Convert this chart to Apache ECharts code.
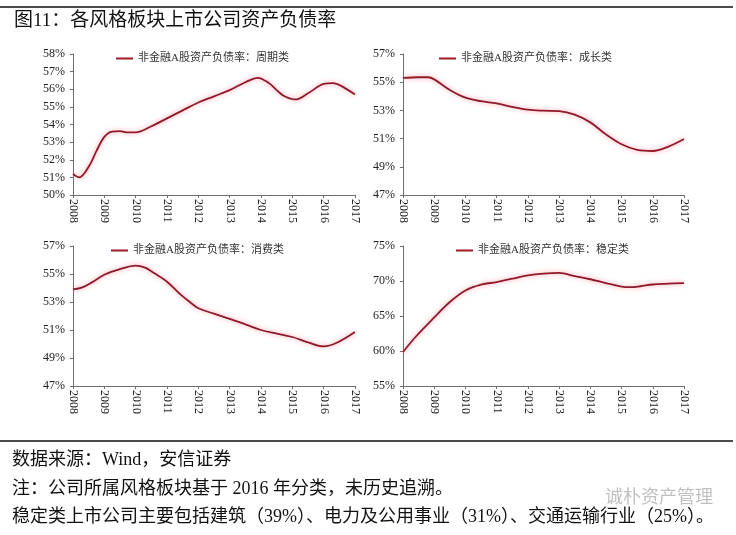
<!DOCTYPE html>
<html><head><meta charset="utf-8">
<script src="https://cdn.jsdelivr.net/npm/echarts@6/dist/echarts.min.js"></script>
<style>html,body{margin:0;padding:0;background:#fff;}#c{width:736px;height:535px;}</style>
</head><body><div id="c"></div>
<script>
// ---- data ----
const titleText = '图11：各风格板块上市公司资产负债率';
const footerLines = ['数据来源：Wind，安信证券', '注：公司所属风格板块基于 2016 年分类，未历史追溯。', '稳定类上市公司主要包括建筑（39%）、电力及公用事业（31%）、交通运输行业（25%）。'];
const seriesNames = ['非金融A股资产负债率：周期类', '非金融A股资产负债率：成长类', '非金融A股资产负债率：消费类', '非金融A股资产负债率：稳定类'];

const cyclicalX = [2008, 2008.2, 2008.5, 2008.75, 2009, 2009.25, 2009.5, 2009.75, 2010, 2010.5, 2011, 2011.5, 2012, 2012.5, 2013, 2013.5, 2013.9, 2014.25, 2014.5, 2014.75, 2015.1, 2015.5, 2016, 2016.3, 2016.6, 2017];
const cyclicalY = [51.2, 51.0, 51.6, 52.5, 53.3, 53.6, 53.62, 53.55, 53.55, 53.9, 54.35, 54.8, 55.25, 55.6, 55.95, 56.4, 56.65, 56.35, 55.95, 55.6, 55.42, 55.77, 56.3, 56.35, 56.15, 55.7];

const growthX = [2008, 2008.5, 2008.8, 2009, 2009.5, 2010, 2010.5, 2011, 2011.5, 2012, 2012.5, 2013, 2013.5, 2014, 2014.5, 2015, 2015.5, 2016, 2016.5, 2017];
const growthY = [55.3, 55.35, 55.35, 55.2, 54.45, 53.9, 53.65, 53.5, 53.25, 53.05, 52.98, 52.95, 52.7, 52.15, 51.3, 50.6, 50.2, 50.12, 50.43, 50.97];

const consumerX = [2008, 2008.3, 2008.6, 2009, 2009.5, 2010, 2010.3, 2010.6, 2011, 2011.4, 2011.7, 2012, 2012.5, 2013, 2013.5, 2014, 2014.5, 2015, 2015.5, 2016, 2016.4, 2017];
const consumerY = [53.9, 54.05, 54.4, 54.95, 55.35, 55.6, 55.45, 55.05, 54.45, 53.6, 53.05, 52.55, 52.17, 51.8, 51.4, 51.0, 50.74, 50.5, 50.12, 49.83, 50.07, 50.86];

const stableX = [2008, 2008.4, 2009, 2009.5, 2010, 2010.5, 2011, 2011.5, 2012, 2012.5, 2013, 2013.5, 2014, 2014.5, 2015, 2015.3, 2015.6, 2016, 2016.5, 2017];
const stableY = [59.85, 62.0, 64.8, 67.0, 68.65, 69.48, 69.85, 70.33, 70.8, 71.05, 71.15, 70.7, 70.25, 69.71, 69.2, 69.12, 69.25, 69.5, 69.62, 69.7];

const yearMin = 2008, yearMax = 2017;
const yRanges = [[50, 58, 1], [47, 57, 2], [47, 57, 2], [55, 75, 5]];

// ---- layout ----
const grids = [
  {left: 73, top: 54, width: 282, height: 141},
  {left: 403, top: 54, width: 281, height: 141},
  {left: 73, top: 246, width: 282, height: 140},
  {left: 403, top: 246, width: 281, height: 140}
];
const legendPos = [[111, 48], [434, 48], [106, 240], [451, 240]];
const xs = [cyclicalX, growthX, consumerX, stableX];
const ys = [cyclicalY, growthY, consumerY, stableY];

const serif = '"Liberation Serif", "Times New Roman", serif';
const cjk = '"Liberation Serif", "Noto Sans CJK SC", serif';
const axisColor = '#6e6e6e';
const lineColor = '#8e1a2b';

const option = {
  animation: false,
  backgroundColor: '#fff',
  grid: grids.map(g => Object.assign({containLabel: false, outerBoundsMode: 'none'}, g)),
  xAxis: grids.map((g, i) => ({
    type: 'value', gridIndex: i, min: yearMin, max: yearMax, interval: 1,
    axisLine: {show: true, lineStyle: {color: axisColor, width: 1}},
    axisTick: {show: true, length: 3, lineStyle: {color: axisColor}},
    splitLine: {show: false},
    axisLabel: {rotate: -90, margin: 4, color: '#222', fontFamily: serif, fontSize: 12,
      formatter: v => String(Math.round(v))}
  })),
  yAxis: yRanges.map((r, i) => ({
    type: 'value', gridIndex: i, min: r[0], max: r[1], interval: r[2],
    axisLine: {show: true, lineStyle: {color: axisColor, width: 1}},
    axisTick: {show: true, length: 3, lineStyle: {color: axisColor}},
    splitLine: {show: false},
    axisLabel: {margin: 8, color: '#222', fontFamily: serif, fontSize: 12, formatter: '{value}%'}
  })),
  legend: seriesNames.map((n, i) => ({
    data: [n], left: legendPos[i][0], top: legendPos[i][1],
    icon: 'rect', itemWidth: 17, itemHeight: 2, itemGap: 4,
    itemStyle: {color: '#a01a2c'},
    textStyle: {fontFamily: cjk, fontSize: 11, color: '#333'}
  })),
  series: seriesNames.map((n, i) => ({
    name: n, type: 'line', xAxisIndex: i, yAxisIndex: i,
    data: xs[i].map((x, k) => [x, ys[i][k]]),
    smooth: 0.35, symbol: 'none',
    lineStyle: {color: lineColor, width: 1.8, shadowColor: 'rgba(255,110,130,0.75)', shadowBlur: 5},
    itemStyle: {color: lineColor}
  })),
  graphic: [
    {type: 'line', shape: {x1: 0, y1: 7, x2: 733, y2: 7}, style: {stroke: '#111', lineWidth: 1.5}},
    {type: 'text', left: 14, top: 12, style: {text: titleText, font: '19px ' + cjk, fill: '#111'}},
    {type: 'line', shape: {x1: 0, y1: 441, x2: 733, y2: 441}, style: {stroke: '#111', lineWidth: 1.5}},
    {type: 'text', left: 12, top: 451, style: {text: footerLines[0], font: '18px ' + cjk, fill: '#111'}},
    {type: 'text', left: 12, top: 480, style: {text: footerLines[1], font: '18px ' + cjk, fill: '#111'}},
    {type: 'text', left: 12, top: 508, style: {text: footerLines[2], font: '18px ' + cjk, fill: '#111'}},
    {type: 'text', left: 605, top: 487, style: {text: '诚朴资产管理', font: '18px "Noto Sans CJK SC"', fill: 'rgba(140,140,140,0.55)'}}
  ]
};
const chart = echarts.init(document.getElementById('c'), null, {renderer: 'canvas'});
chart.setOption(option);
</script>
</body></html>
